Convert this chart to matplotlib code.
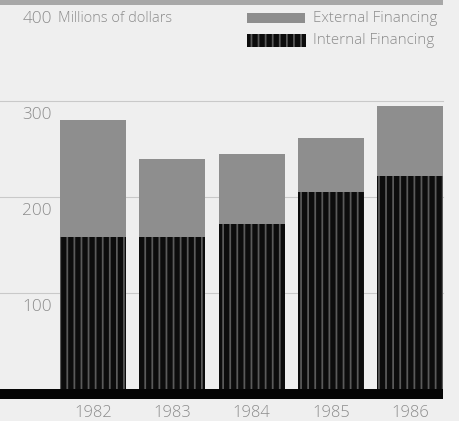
import matplotlib
matplotlib.use("Agg")
import matplotlib.pyplot as plt
from matplotlib.patches import Rectangle

years = ["1982", "1983", "1984", "1985", "1986"]
internal = [158, 158, 172, 205, 222]
external = [122, 82, 73, 56, 73]
grid_values = [100, 200, 300]
label_values = [100, 200, 300, 400]
tick_labels = ["100", "200", "300", "400"]

BG = "#efefef"
EXT = "#8e8e8e"
INT = "#0c0c0c"
STRIPE = "#5a5a5a"
TXT = "#8c8c8c"
GRID = "#c9c9c9"

plt.rcParams["font.family"] = ["Open Sans", "DejaVu Sans"]
plt.rcParams["hatch.linewidth"] = 1.5

DPI = 85
W, H = 459, 421
fig = plt.figure(figsize=(W / DPI, H / DPI), dpi=DPI, facecolor=BG)
ax = fig.add_axes([0, 0, 1, 1])
ax.set_facecolor(BG)
for s in ax.spines.values():
    s.set_visible(False)
ax.set_xticks([])
ax.set_yticks([])

step = 79.25
x0 = 93 / step
ax.set_xlim(-x0, (W - 93) / step)
ax.set_ylim(-33, 405)
x_right = (443 - 93) / step
x_left = -x0

# gridlines and the band along the top
for v in grid_values:
    ax.plot([x_left, x_right], [v, v], color=GRID, lw=0.9, zorder=1)
ax.add_patch(Rectangle((x_left, 400), x_right - x_left, 6, facecolor="#a8a8a8",
                       edgecolor="none", zorder=1))

pos = list(range(len(years)))
width = 66 / step
ax.bar(pos, internal, width=width, color=INT, edgecolor=STRIPE,
       linewidth=0, hatch="||", zorder=3)
ax.bar(pos, external, width=width, bottom=internal, color=EXT,
       edgecolor="none", linewidth=0, zorder=3)

# heavy baseline
ax.add_patch(Rectangle((x_left, -10.5), x_right - x_left, 10.5, facecolor="#050505",
                       edgecolor="none", zorder=4))

# value labels sit just below each gridline
label_x = (52 - 93) / step
for v, t in zip(label_values, tick_labels):
    ax.text(label_x, v - 14.5, t, ha="right", va="center", fontsize=14.5,
            color=TXT, fontweight="light", zorder=5)
ax.text((58 - 93) / step, 400 - 14.5, "Millions of dollars", ha="left",
        va="center", fontsize=12.3, color=TXT, fontweight="light", zorder=5)

# year labels
for p, y in zip(pos, years):
    ax.text(p, -24.5, y, ha="center", va="center", fontsize=14, color=TXT,
            fontweight="light", zorder=5)

# legend
def px(x, y):
    return x / W, 1 - y / H

fig.patches.append(Rectangle(px(247, 23), 58 / W, 10 / H, facecolor=EXT,
                             edgecolor="none", transform=fig.transFigure))
fig.patches.append(Rectangle(px(247, 47), 59 / W, 13 / H, facecolor=INT,
                             edgecolor=STRIPE, linewidth=0, hatch="||",
                             transform=fig.transFigure))
fig.text(*px(313, 18.5), "External Financing", ha="left", va="center",
         fontsize=12.8, color=TXT, fontweight="light")
fig.text(*px(313, 41), "Internal Financing", ha="left", va="center",
         fontsize=12.8, color=TXT, fontweight="light")

fig.savefig("out.png", dpi=DPI, facecolor=BG)
